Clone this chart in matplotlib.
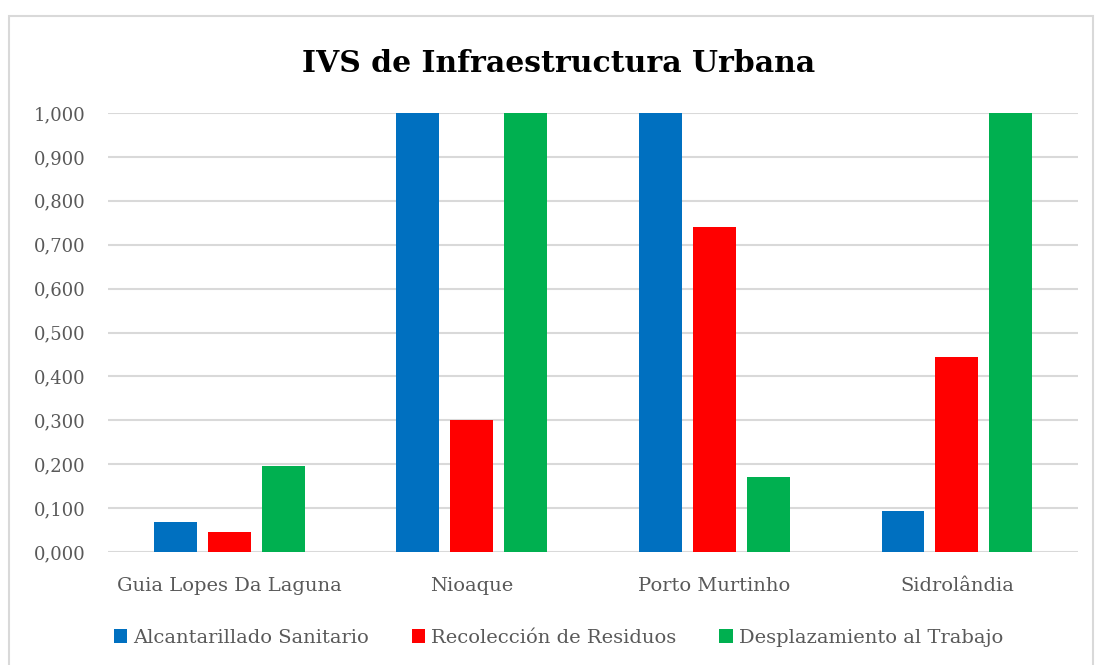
import numpy as np
import matplotlib
matplotlib.use("Agg")
import matplotlib.pyplot as plt
from matplotlib.patches import Rectangle
from matplotlib.ticker import FuncFormatter

municipios = ["Guia Lopes Da Laguna", "Nioaque", "Porto Murtinho", "Sidrolândia"]
series = ["Alcantarillado Sanitario", "Recolección de Residuos", "Desplazamiento al Trabajo"]
alcantarillado = [0.068, 1.000, 1.000, 0.093]
recoleccion = [0.045, 0.300, 0.740, 0.445]
desplazamiento = [0.195, 1.000, 0.170, 1.000]
colores = ["#0070C0", "#FF0000", "#00B050"]

plt.rcParams['font.family'] = ['DejaVu Serif']

fig = plt.figure(figsize=(10.95, 6.65), dpi=100)
ax = fig.add_axes([0.0986, 0.170, 0.886, 0.660])

# chart border
fig.patches.append(Rectangle((9/1095, -0.01), 1084/1095, 1 - 16/665 + 0.01,
                             transform=fig.transFigure, fill=False,
                             edgecolor="#D9D9D9", linewidth=1.5))

x = np.arange(len(municipios))
w = 0.177
step = 0.222
for i, (vals, name) in enumerate(zip([alcantarillado, recoleccion, desplazamiento], series)):
    ax.bar(x + (i - 1) * step, vals, width=w, color=colores[i], label=name, zorder=3)

ax.set_xlim(-0.5, 3.5)
ax.set_ylim(0, 1.0)
ax.set_yticks(np.arange(0, 1.01, 0.1))
ax.yaxis.set_major_formatter(FuncFormatter(lambda v, p: f"{v:.3f}".replace(".", ",")))
ax.set_xticks(x)
ax.set_xticklabels(municipios)
ax.grid(axis="y", color="#D9D9D9", linewidth=1.5, zorder=0)
for s in ax.spines.values():
    s.set_visible(False)
ax.tick_params(length=0, colors="#595959", labelsize=14)
ax.tick_params(axis="y", labelsize=13, pad=16)
ax.tick_params(axis="x", pad=18)

fig.text(0.51, 0.905, "IVS de Infraestructura Urbana", ha="center", va="center",
         fontsize=21.5, fontweight="bold", color="black")

leg = fig.legend(loc="center", bbox_to_anchor=(0.51, 0.041), ncol=3, frameon=False,
                 fontsize=14, handlelength=0.7, handleheight=0.7, handletextpad=0.3,
                 columnspacing=2.2)
for t in leg.get_texts():
    t.set_color("#595959")

fig.savefig("out.png", dpi=100)
